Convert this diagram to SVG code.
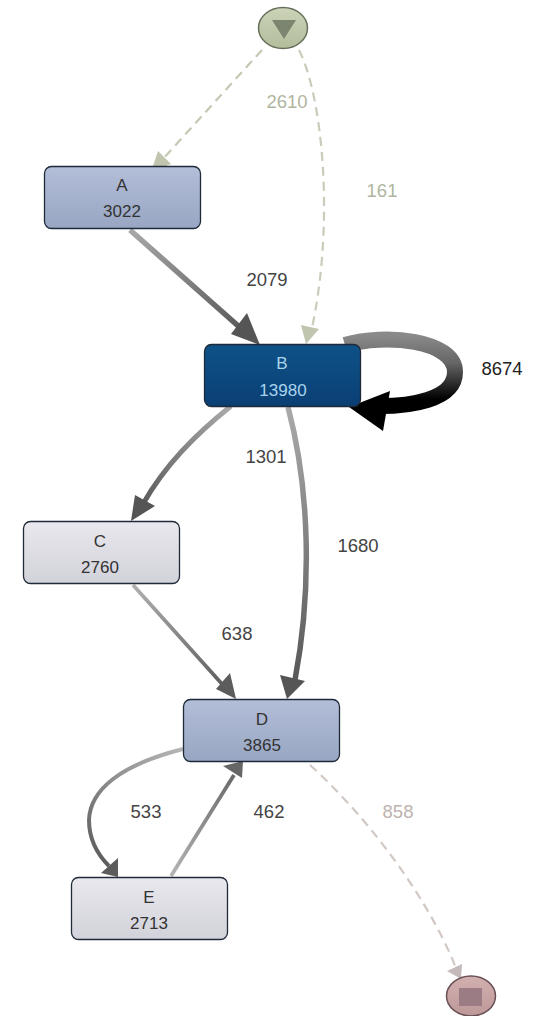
<svg xmlns="http://www.w3.org/2000/svg" width="541" height="1016" viewBox="0 0 541 1016">
<defs>
<linearGradient id="gA" x1="0" y1="0" x2="0" y2="1"><stop offset="0" stop-color="#b3bed8"/><stop offset="1" stop-color="#98a6c3"/></linearGradient>
<linearGradient id="gB" x1="0" y1="0" x2="0" y2="1"><stop offset="0" stop-color="#0e5288"/><stop offset="1" stop-color="#0a3f74"/></linearGradient>
<linearGradient id="gC" x1="0" y1="0" x2="0" y2="1"><stop offset="0" stop-color="#e9e8ee"/><stop offset="1" stop-color="#d2d2da"/></linearGradient>
<linearGradient id="gS" x1="0" y1="0" x2="0" y2="1"><stop offset="0" stop-color="#ccd3b8"/><stop offset="1" stop-color="#b3bd9c"/></linearGradient>
<linearGradient id="gE" x1="0" y1="0" x2="0" y2="1"><stop offset="0" stop-color="#d3b0b0"/><stop offset="1" stop-color="#bd9898"/></linearGradient>
<linearGradient id="gLoop" gradientUnits="userSpaceOnUse" x1="0" y1="335" x2="0" y2="415"><stop offset="0" stop-color="#8a8a8a"/><stop offset="0.35" stop-color="#666"/><stop offset="0.8" stop-color="#000"/></linearGradient>
<linearGradient id="gAB" gradientUnits="userSpaceOnUse" x1="130" y1="230" x2="250" y2="335"><stop offset="0" stop-color="#a8a8a8"/><stop offset="1" stop-color="#555"/></linearGradient>
<linearGradient id="gBC" gradientUnits="userSpaceOnUse" x1="230" y1="406" x2="140" y2="515"><stop offset="0" stop-color="#aaa"/><stop offset="1" stop-color="#555"/></linearGradient>
<linearGradient id="gBD" gradientUnits="userSpaceOnUse" x1="0" y1="406" x2="0" y2="690"><stop offset="0" stop-color="#aaa"/><stop offset="1" stop-color="#555"/></linearGradient>
<linearGradient id="gCD" gradientUnits="userSpaceOnUse" x1="133" y1="585" x2="225" y2="690"><stop offset="0" stop-color="#b0b0b0"/><stop offset="1" stop-color="#5c5c5c"/></linearGradient>
<linearGradient id="gDE" gradientUnits="userSpaceOnUse" x1="183" y1="750" x2="110" y2="870"><stop offset="0" stop-color="#b5b5b5"/><stop offset="1" stop-color="#5c5c5c"/></linearGradient>
<linearGradient id="gED" gradientUnits="userSpaceOnUse" x1="170" y1="876" x2="238" y2="770"><stop offset="0" stop-color="#b5b5b5"/><stop offset="1" stop-color="#666"/></linearGradient>
</defs>
<style>
.n{stroke:#1f2a38;stroke-width:1.3}
.t{font-family:"Liberation Sans",Arial,sans-serif;font-size:17px;text-anchor:middle;fill:#333}
.l{font-family:"Liberation Sans",Arial,sans-serif;font-size:18.5px;text-anchor:middle;fill:#444}
.d{fill:none;stroke-width:2.2;stroke-dasharray:9 6}
.e{fill:none}
</style>
<g id="connectors">
<path class="d" stroke="#c4c9b4" d="M262 50L162 160"/>
<path d="M151 172L158 151L171 164Z" fill="#c0c6ae"/>
<path class="d" stroke="#c9ccba" d="M299 50C322 95 335 220 312 328"/>
<path d="M306 344L301 325L319 329Z" fill="#c0c6ae"/>
<path class="e" stroke="url(#gAB)" stroke-width="5.5" d="M130 230L245 332"/>
<path d="M260 345L231 334L247 313Z" fill="#555"/>
<path class="e" stroke="url(#gLoop)" stroke-width="16" d="M345 345C385 333 455 340 455 372C455 400 410 407 372 406"/>
<path d="M349 407L390 391L383 431Z" fill="#000"/>
<path class="e" stroke="url(#gBC)" stroke-width="5" d="M231 406C195 435 165 465 143 504"/>
<path d="M131 521L135 495L155 506Z" fill="#555"/>
<path class="e" stroke="url(#gBD)" stroke-width="5.5" d="M288 407C310 490 312 590 295 680"/>
<path d="M287 699L280 675L305 681Z" fill="#555"/>
<path class="e" stroke="url(#gCD)" stroke-width="3.8" d="M133 585L222 684"/>
<path d="M236 699L216 689L230 673Z" fill="#5c5c5c"/>
<path class="e" stroke="url(#gDE)" stroke-width="4" d="M183 749C120 765 90 790 89 820C89 840 98 855 109 866"/>
<path d="M118 877L101 873L118 858Z" fill="#5c5c5c"/>
<path class="e" stroke="url(#gED)" stroke-width="3.8" d="M171 876L234 775"/>
<path d="M243 761L242 778L223 766Z" fill="#666"/>
<path class="d" stroke="#d2c8c4" d="M310 765C360 810 425 890 456 968"/>
<path d="M461 979L447 971L462 964Z" fill="#c4baba"/>
</g>
<g id="start"><ellipse cx="283" cy="28" rx="24.500" ry="20.500" fill="url(#gS)" stroke="#66705a" stroke-width="1.500"/><path d="M272 20H296L284 39Z" fill="#7c8570"/></g>
<g id="end"><ellipse cx="471" cy="996" rx="24.500" ry="20" fill="url(#gE)" stroke="#6a5055" stroke-width="1.500"/><rect x="459" y="988" width="23" height="18" fill="#9b7c84"/></g>
<g id="A"><rect class="n" x="44.500" y="166.500" width="156" height="62" rx="7" fill="url(#gA)"/><text class="t" x="122" y="191">A</text><text class="t" x="122" y="217">3022</text></g>
<g id="B"><rect class="n" x="204.500" y="344.500" width="156" height="62" rx="7" fill="url(#gB)"/><text class="t" x="282" y="369" style="fill:#a9d3ee">B</text><text class="t" x="283" y="396" style="fill:#a9d3ee">13980</text></g>
<g id="C"><rect class="n" x="23.500" y="521.500" width="156" height="62" rx="7" fill="url(#gC)"/><text class="t" x="100" y="547">C</text><text class="t" x="100" y="573">2760</text></g>
<g id="D"><rect class="n" x="183.500" y="699.500" width="156" height="62" rx="7" fill="url(#gA)"/><text class="t" x="262" y="725">D</text><text class="t" x="262" y="751">3865</text></g>
<g id="E"><rect class="n" x="71.500" y="877.500" width="156" height="62" rx="7" fill="url(#gC)"/><text class="t" x="149" y="903">E</text><text class="t" x="149" y="929">2713</text></g>
<g id="labels">
<text class="l" x="287" y="108" style="fill:#b0b5a0">2610</text>
<text class="l" x="382" y="197" style="fill:#b0b5a0">161</text>
<text class="l" x="267" y="286">2079</text>
<text class="l" x="502" y="375" style="fill:#222">8674</text>
<text class="l" x="266" y="463">1301</text>
<text class="l" x="358" y="552">1680</text>
<text class="l" x="237" y="640">638</text>
<text class="l" x="146" y="818">533</text>
<text class="l" x="269" y="818">462</text>
<text class="l" x="398" y="818" style="fill:#bdb3ae">858</text>
</g>
</svg>
